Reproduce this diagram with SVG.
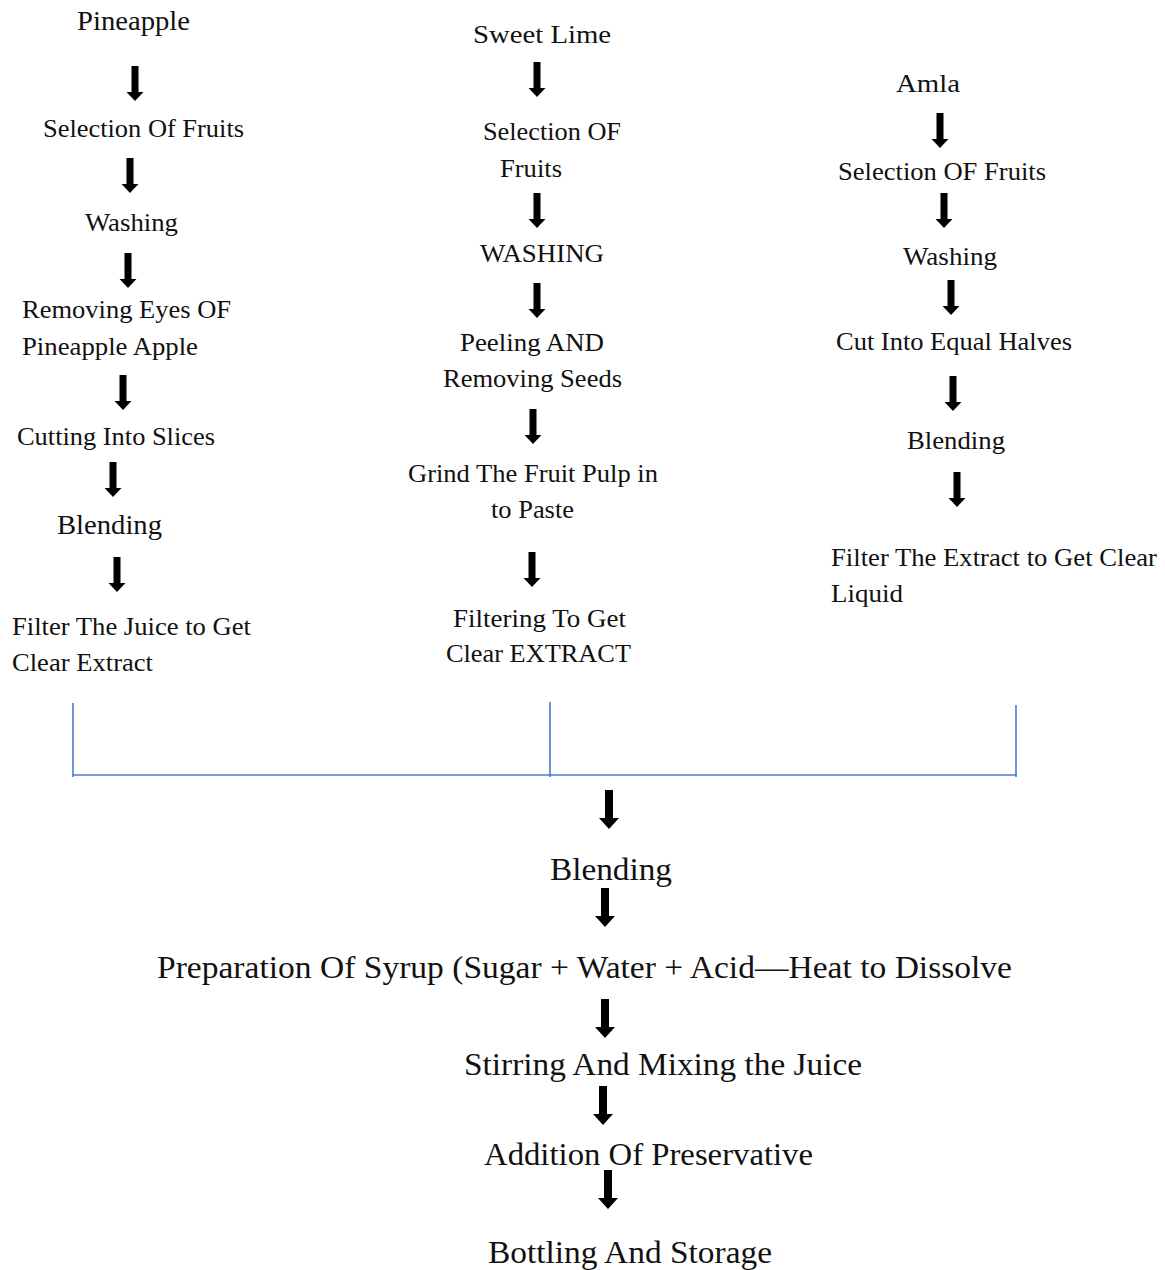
<svg xmlns="http://www.w3.org/2000/svg" width="1165" height="1270" viewBox="0 0 1165 1270">
<style>
text{font-family:"Liberation Serif","Times New Roman",serif;fill:#111;}
.s{font-size:25px;}
.m{font-size:27px;}
.b{font-size:32px;}
.br{stroke:#4a7bc8;stroke-width:1.6;fill:none;}
</style>
<defs>
<path id="a" d="M-3.5,0H3.5V26H8.5L0,35L-8.5,26H-3.5Z" fill="#000"/>
<path id="A" d="M-4,0H4V28H10L0,39L-10,28H-4Z" fill="#000"/>
</defs>
<rect width="1165" height="1270" fill="#fff"/>
<g id="connectors">
<use href="#a" x="135" y="66"/>
<use href="#a" x="130" y="158"/>
<use href="#a" x="128" y="253"/>
<use href="#a" x="123" y="375"/>
<use href="#a" x="113" y="462"/>
<use href="#a" x="117" y="557"/>
<use href="#a" x="537" y="62"/>
<use href="#a" x="537" y="193"/>
<use href="#a" x="537" y="283"/>
<use href="#a" x="533" y="409"/>
<use href="#a" x="532" y="552"/>
<use href="#a" x="940" y="113"/>
<use href="#a" x="944" y="193"/>
<use href="#a" x="951" y="280"/>
<use href="#a" x="953" y="376"/>
<use href="#a" x="957" y="472"/>
<line class="br" x1="73" y1="703" x2="73" y2="777"/>
<line class="br" x1="550" y1="702" x2="550" y2="777"/>
<line class="br" x1="1016" y1="705" x2="1016" y2="777"/>
<line class="br" x1="73" y1="775" x2="1017" y2="775"/>
<use href="#A" x="609" y="790"/>
<use href="#A" x="605" y="888"/>
<use href="#A" x="605" y="999"/>
<use href="#A" x="603" y="1086"/>
<use href="#A" x="608" y="1170"/>
</g>
<g id="n-pineapple"><text class="m" x="77" y="30" textLength="113" lengthAdjust="spacingAndGlyphs">Pineapple</text></g>
<g id="n-p-selection"><text class="s" x="43" y="137" textLength="201" lengthAdjust="spacingAndGlyphs">Selection Of Fruits</text></g>
<g id="n-p-washing"><text class="s" x="85" y="231" textLength="93" lengthAdjust="spacingAndGlyphs">Washing</text></g>
<g id="n-p-eyes"><text class="s" x="22" y="318" textLength="209" lengthAdjust="spacingAndGlyphs">Removing Eyes OF</text><text class="s" x="22" y="355" textLength="176" lengthAdjust="spacingAndGlyphs">Pineapple Apple</text></g>
<g id="n-p-cutting"><text class="s" x="17" y="445" textLength="198" lengthAdjust="spacingAndGlyphs">Cutting Into Slices</text></g>
<g id="n-p-blending"><text class="m" x="57" y="534" textLength="105" lengthAdjust="spacingAndGlyphs">Blending</text></g>
<g id="n-p-filter"><text class="s" x="12" y="635" textLength="239" lengthAdjust="spacingAndGlyphs">Filter The Juice to Get</text><text class="s" x="12" y="671" textLength="141" lengthAdjust="spacingAndGlyphs">Clear Extract</text></g>
<g id="n-sweetlime"><text class="s" x="473" y="43" textLength="138" lengthAdjust="spacingAndGlyphs">Sweet Lime</text></g>
<g id="n-s-selection"><text class="s" x="483" y="140" textLength="138" lengthAdjust="spacingAndGlyphs">Selection OF</text><text class="s" x="500" y="177" textLength="62" lengthAdjust="spacingAndGlyphs">Fruits</text></g>
<g id="n-s-washing"><text class="s" x="480" y="262" textLength="124" lengthAdjust="spacingAndGlyphs">WASHING</text></g>
<g id="n-s-peeling"><text class="s" x="460" y="351" textLength="144" lengthAdjust="spacingAndGlyphs">Peeling AND</text><text class="s" x="443" y="387" textLength="179" lengthAdjust="spacingAndGlyphs">Removing Seeds</text></g>
<g id="n-s-grind"><text class="s" x="408" y="482" textLength="250" lengthAdjust="spacingAndGlyphs">Grind The Fruit Pulp in</text><text class="s" x="491" y="518" textLength="83" lengthAdjust="spacingAndGlyphs">to Paste</text></g>
<g id="n-s-filter"><text class="s" x="453" y="627" textLength="173" lengthAdjust="spacingAndGlyphs">Filtering To Get</text><text class="s" x="446" y="662" textLength="185" lengthAdjust="spacingAndGlyphs">Clear EXTRACT</text></g>
<g id="n-amla"><text class="s" x="896" y="92" textLength="64" lengthAdjust="spacingAndGlyphs">Amla</text></g>
<g id="n-a-selection"><text class="s" x="838" y="180" textLength="208" lengthAdjust="spacingAndGlyphs">Selection OF Fruits</text></g>
<g id="n-a-washing"><text class="s" x="903" y="265" textLength="94" lengthAdjust="spacingAndGlyphs">Washing</text></g>
<g id="n-a-cut"><text class="s" x="836" y="350" textLength="236" lengthAdjust="spacingAndGlyphs">Cut Into Equal Halves</text></g>
<g id="n-a-blending"><text class="s" x="907" y="449" textLength="98" lengthAdjust="spacingAndGlyphs">Blending</text></g>
<g id="n-a-filter"><text class="s" x="831" y="566" textLength="326" lengthAdjust="spacingAndGlyphs">Filter The Extract to Get Clear</text><text class="s" x="831" y="602" textLength="72" lengthAdjust="spacingAndGlyphs">Liquid</text></g>
<g id="n-blending"><text class="b" x="550" y="880" textLength="122" lengthAdjust="spacingAndGlyphs">Blending</text></g>
<g id="n-syrup"><text class="b" x="157" y="978" textLength="855" lengthAdjust="spacingAndGlyphs">Preparation Of Syrup (Sugar + Water + Acid—Heat to Dissolve</text></g>
<g id="n-stirring"><text class="b" x="464" y="1075" textLength="398" lengthAdjust="spacingAndGlyphs">Stirring And Mixing the Juice</text></g>
<g id="n-preservative"><text class="b" x="484" y="1165" textLength="329" lengthAdjust="spacingAndGlyphs">Addition  Of Preservative</text></g>
<g id="n-bottling"><text class="b" x="488" y="1263" textLength="284" lengthAdjust="spacingAndGlyphs">Bottling And Storage</text></g>
</svg>
